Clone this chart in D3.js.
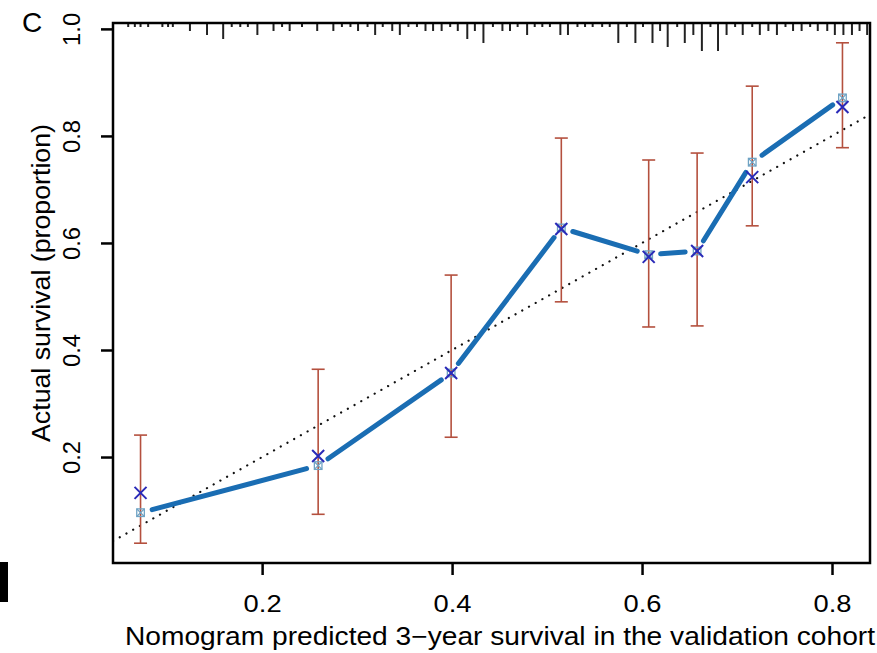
<!DOCTYPE html>
<html>
<head>
<meta charset="utf-8">
<script src="https://cdn.jsdelivr.net/npm/d3@7"></script>
<style>
  body { margin: 0; background: #fff; }
  svg { display: block; }
  text { font-family: "Liberation Sans", Arial, sans-serif; }
</style>
</head>
<body>
<svg id="chart" width="877" height="653"></svg>
<script>
// mean predicted survival per group
var predicted = [0.072, 0.259, 0.399, 0.515, 0.607, 0.658, 0.716, 0.811];
// Kaplan-Meier observed survival (squares, joined by the line)
var observed = [0.096, 0.184, 0.357, 0.628, 0.578, 0.585, 0.751, 0.871];
// bias-corrected estimates (x marks)
var corrected = [0.133, 0.202, 0.357, 0.626, 0.574, 0.585, 0.723, 0.854];
var lower = [0.039, 0.093, 0.237, 0.490, 0.443, 0.445, 0.632, 0.778];
var upper = [0.241, 0.364, 0.540, 0.796, 0.755, 0.768, 0.893, 0.974];

// distribution of predicted values (rug at top)
var rugValues = [0.059, 0.066, 0.072, 0.080, 0.095, 0.101, 0.106, 0.124, 0.142, 0.159,
  0.168, 0.177, 0.185, 0.195, 0.212, 0.221, 0.229, 0.242, 0.258, 0.275,
  0.284, 0.293, 0.301, 0.311, 0.319, 0.327, 0.337, 0.345, 0.354, 0.363,
  0.372, 0.380, 0.389, 0.398, 0.406, 0.416, 0.424, 0.433, 0.443, 0.453,
  0.461, 0.469, 0.479, 0.487, 0.495, 0.503, 0.514, 0.522, 0.532, 0.540,
  0.548, 0.558, 0.566, 0.575, 0.584, 0.593, 0.601, 0.611, 0.619, 0.627,
  0.637, 0.645, 0.654, 0.663, 0.672, 0.680, 0.689, 0.698, 0.706, 0.716,
  0.724, 0.733, 0.742, 0.751, 0.759, 0.768, 0.777, 0.785, 0.795, 0.803,
  0.812, 0.821, 0.829, 0.837];
var rugCounts = [1, 1, 1, 1, 1, 1, 1, 2, 3, 4,
  1, 1, 1, 3, 2, 1, 2, 1, 2, 2,
  1, 1, 2, 1, 3, 1, 2, 3, 1, 1,
  2, 2, 2, 1, 2, 4, 2, 5, 1, 2,
  2, 1, 3, 1, 1, 1, 3, 3, 1, 1,
  1, 1, 1, 5, 1, 5, 1, 5, 2, 6,
  1, 5, 3, 7, 1, 7, 3, 1, 3, 1,
  3, 2, 3, 1, 2, 2, 1, 2, 2, 3,
  3, 3, 2, 3];

var xTicks = [0.2, 0.4, 0.6, 0.8];
var yTicks = [0.2, 0.4, 0.6, 0.8, 1.0];
var xTitle = "Nomogram predicted 3\u2212year survival in the validation cohort";
var yTitle = "Actual survival (proportion)";

var plotL = 113, plotR = 870, plotT = 23, plotB = 563;

var svg = d3.select("#chart");

var x = d3.scaleLinear().domain([0.043, 0.84]).range([plotL, plotR]);
var y = d3.scaleLinear().domain([0.002, 1.011]).range([plotB, plotT]);

svg.append("defs").append("clipPath").attr("id", "plotclip")
    .append("rect")
    .attr("x", plotL).attr("y", plotT)
    .attr("width", plotR - plotL).attr("height", plotB - plotT);

// ideal line
svg.append("line")
    .attr("clip-path", "url(#plotclip)")
    .attr("x1", x(0.043)).attr("y1", y(0.043))
    .attr("x2", x(0.84)).attr("y2", y(0.84))
    .attr("stroke", "#111")
    .attr("stroke-width", 2.2)
    .attr("stroke-linecap", "round")
    .attr("stroke-dasharray", "0.1 7.6");

// rug
svg.append("g")
    .selectAll("line")
    .data(rugValues)
    .join("line")
    .attr("x1", d => x(d)).attr("x2", d => x(d))
    .attr("y1", plotT)
    .attr("y2", (d, i) => plotT + rugCounts[i] * 4)
    .attr("stroke", "#222")
    .attr("stroke-width", 2);

var pts = predicted.map((p, i) => ({
    p: p, obs: observed[i], cor: corrected[i], lo: lower[i], hi: upper[i]
}));

// error bars
var eb = svg.append("g").attr("stroke", "#b4503e").attr("stroke-width", 1.6);
eb.selectAll("line.v")
    .data(pts).join("line").attr("class", "v")
    .attr("x1", d => x(d.p)).attr("x2", d => x(d.p))
    .attr("y1", d => y(d.lo)).attr("y2", d => y(d.hi));
eb.selectAll("line.lo")
    .data(pts).join("line").attr("class", "lo")
    .attr("x1", d => x(d.p) - 6.5).attr("x2", d => x(d.p) + 6.5)
    .attr("y1", d => y(d.lo)).attr("y2", d => y(d.lo));
eb.selectAll("line.hi")
    .data(pts).join("line").attr("class", "hi")
    .attr("x1", d => x(d.p) - 6.5).attr("x2", d => x(d.p) + 6.5)
    .attr("y1", d => y(d.hi)).attr("y2", d => y(d.hi));

// observed line, drawn type "b" style with gaps at the points
var gap = 12;
var segs = d3.pairs(pts).map(function (pair) {
    var x1 = x(pair[0].p), y1 = y(pair[0].obs), x2 = x(pair[1].p), y2 = y(pair[1].obs);
    var len = Math.hypot(x2 - x1, y2 - y1);
    var ux = (x2 - x1) / len, uy = (y2 - y1) / len;
    return { x1: x1 + ux * gap, y1: y1 + uy * gap, x2: x2 - ux * gap, y2: y2 - uy * gap };
});
svg.append("g")
    .selectAll("line")
    .data(segs)
    .join("line")
    .attr("x1", d => d.x1).attr("y1", d => d.y1)
    .attr("x2", d => d.x2).attr("y2", d => d.y2)
    .attr("stroke", "#1a6db3")
    .attr("stroke-width", 5)
    .attr("stroke-linecap", "round");

// observed squares
var sq = svg.append("g")
    .selectAll("g")
    .data(pts)
    .join("g")
    .attr("transform", d => `translate(${x(d.p)},${y(d.obs)})`)
    .attr("stroke", "#6fa3c4")
    .attr("stroke-width", 1.3)
    .attr("fill", "none");
sq.append("rect").attr("x", -3.8).attr("y", -3.8).attr("width", 7.6).attr("height", 7.6);
sq.append("path").attr("d", "M-3.8,-3.8L3.8,3.8M3.8,-3.8L-3.8,3.8");

// bias-corrected x marks
svg.append("g")
    .selectAll("path")
    .data(pts)
    .join("path")
    .attr("transform", d => `translate(${x(d.p)},${y(d.cor)})`)
    .attr("d", "M-6,-6L6,6M6,-6L-6,6")
    .attr("stroke", "#2a2ab8")
    .attr("stroke-width", 2)
    .attr("fill", "none");

// frame
svg.append("rect")
    .attr("x", plotL).attr("y", plotT)
    .attr("width", plotR - plotL).attr("height", plotB - plotT)
    .attr("fill", "none")
    .attr("stroke", "#000")
    .attr("stroke-width", 2.5);

// axes
var xAxis = g => g
    .attr("transform", `translate(0,${plotB})`)
    .call(d3.axisBottom(x).tickValues(xTicks).tickSize(12).tickFormat(d3.format(".1f")))
    .call(g => g.select(".domain").remove())
    .call(g => g.selectAll(".tick line").attr("stroke", "#000").attr("stroke-width", 2.5))
    .call(g => g.selectAll(".tick text")
        .attr("y", 49).attr("dy", null)
        .attr("fill", "#000")
        .attr("font-size", 24)
        .attr("textLength", 38)
        .attr("lengthAdjust", "spacingAndGlyphs"));

var yAxis = g => g
    .attr("transform", `translate(${plotL},0)`)
    .call(d3.axisLeft(y).tickValues(yTicks).tickSize(12).tickFormat(d3.format(".1f")))
    .call(g => g.select(".domain").remove())
    .call(g => g.selectAll(".tick line").attr("stroke", "#000").attr("stroke-width", 2.5))
    .call(g => g.selectAll(".tick text")
        .attr("transform", "rotate(-90)")
        .attr("x", 0).attr("y", -33).attr("dy", null)
        .attr("text-anchor", "middle")
        .attr("fill", "#000")
        .attr("font-size", 24)
        .attr("textLength", 33)
        .attr("lengthAdjust", "spacingAndGlyphs"));

svg.append("g").call(xAxis);
svg.append("g").call(yAxis);

svg.append("text")
    .attr("x", 500).attr("y", 645)
    .attr("text-anchor", "middle")
    .attr("font-size", 25)
    .attr("textLength", 750)
    .attr("lengthAdjust", "spacingAndGlyphs")
    .text(xTitle);

svg.append("text")
    .attr("transform", `translate(50,${(plotT + plotB) / 2 - 10}) rotate(-90)`)
    .attr("text-anchor", "middle")
    .attr("font-size", 25)
    .attr("textLength", 318)
    .attr("lengthAdjust", "spacingAndGlyphs")
    .text(yTitle);

// panel letter and the edge of the neighbouring panel
svg.append("text")
    .attr("x", 22).attr("y", 32)
    .attr("font-family", "'Open Sans', 'Noto Sans', sans-serif")
    .attr("font-size", 28)
    .text("C");
svg.append("rect")
    .attr("x", 0).attr("y", 562).attr("width", 8).attr("height", 40)
    .attr("fill", "#000");
</script>
</body>
</html>
